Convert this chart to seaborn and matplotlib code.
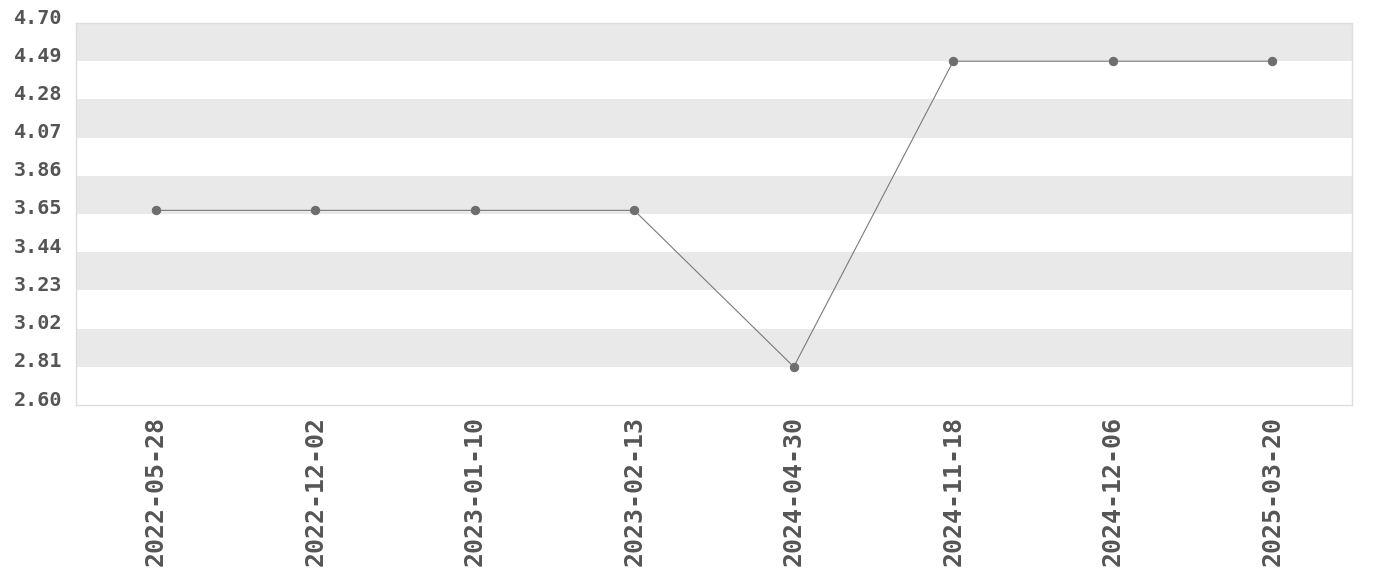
import matplotlib
matplotlib.use("Agg")
import matplotlib.pyplot as plt
import matplotlib.transforms as mtransforms
import seaborn as sns
import numpy as np
import pandas as pd

dates = ["2022-05-28", "2022-12-02", "2023-01-10", "2023-02-13",
         "2024-04-30", "2024-11-18", "2024-12-06", "2025-03-20"]
values = [3.67, 3.67, 3.67, 3.67, 2.81, 4.49, 4.49, 4.49]
y_ticks = [2.60, 2.81, 3.02, 3.23, 3.44, 3.65, 3.86, 4.07, 4.28, 4.49, 4.70]

sns.set_theme(style="white")
plt.rcParams['font.family'] = ['DejaVu Sans Mono', 'DejaVu Sans']

df = pd.DataFrame({"date": dates, "value": values})

fig = plt.figure(figsize=(13.8, 5.8), dpi=100)
ax = fig.add_axes([76/1380, 1 - 405/580, (1352-76)/1380, (405-23)/580])

for i in range(len(y_ticks) - 1):
    if i % 2 == 1:
        ax.axhspan(y_ticks[i], y_ticks[i+1], color="#e9e9e9", lw=0, zorder=0)

x_pos = np.arange(len(dates))
sns.lineplot(x=x_pos, y=df["value"], ax=ax, color="#7a7a7a", linewidth=0.8,
             marker="o", markersize=6, markerfacecolor="#6e6e6e",
             markeredgecolor="#6e6e6e", zorder=3)

ax.set_xlim(-0.5, len(dates) - 0.5)
ax.set_ylim(y_ticks[0], y_ticks[-1])
ax.set_xticks(x_pos)
ax.set_xticklabels(dates, rotation=90, fontsize=18, fontweight="bold", color="#555555")
ax.set_yticks(y_ticks)
ax.set_yticklabels([f"{t:.2f}" for t in y_ticks], fontsize=14.5, fontweight="bold", color="#555555")
ax.tick_params(axis="both", length=0)
ax.tick_params(axis="y", pad=10)
ax.tick_params(axis="x", pad=8)
offset = mtransforms.ScaledTranslation(0, 7/100, fig.dpi_scale_trans)
for lbl in ax.get_yticklabels():
    lbl.set_transform(lbl.get_transform() + offset)
ax.set_xlabel("")
ax.set_ylabel("")
for s in ax.spines.values():
    s.set_color("#dddddd")
    s.set_linewidth(1)
ax.grid(False)

fig.savefig("out.png", dpi=100)
